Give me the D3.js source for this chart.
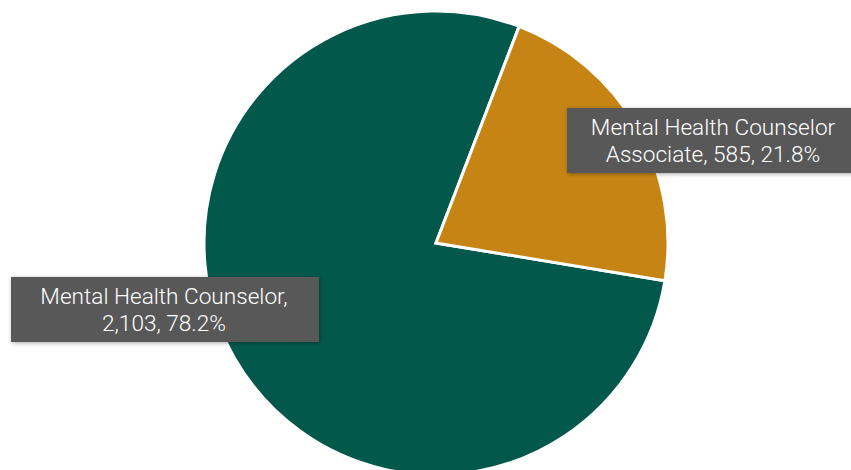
<!DOCTYPE html>
<html>
<head>
<meta charset="utf-8">
<script src="https://cdn.jsdelivr.net/npm/d3@7"></script>
<style>
  body { margin: 0; background: #fff; }
  svg { display: block; }
  .lbl text { font-family: Roboto, "Open Sans", sans-serif; font-size: 22.6px; font-weight: 300; fill: #fff; }
</style>
</head>
<body>
<svg id="chart" width="851" height="470"></svg>
<script>
"use strict";

var categories = ['Mental Health Counselor', 'Mental Health Counselor Associate'];
var counts = [2103, 585];
var labelLines = [
  ['Mental Health Counselor,', '2,103, 78.2%'],
  ['Mental Health Counselor', 'Associate, 585, 21.8%']
];
var colors = ['#02594b', '#c58413'];

var svg = d3.select('#chart');
var cx = 436, cy = 243, radius = 232;

var defs = svg.append('defs');
var f = defs.append('filter').attr('id', 'shadow')
  .attr('x', '-10%').attr('y', '-20%').attr('width', '130%').attr('height', '150%');
f.append('feDropShadow').attr('dx', 1).attr('dy', 1).attr('stdDeviation', 2)
  .attr('flood-color', '#000').attr('flood-opacity', 0.35);

// Associate slice starts at ~21deg clockwise from top, counselor fills the rest
var assocStart = 21 * Math.PI / 180;
var pie = d3.pie().sort(null).value(function(d) { return d; })
  .startAngle(assocStart + (counts[1] / d3.sum(counts)) * 2 * Math.PI)
  .endAngle(assocStart + (counts[1] / d3.sum(counts)) * 2 * Math.PI + 2 * Math.PI);
var arcs = pie(counts);
var arc = d3.arc().innerRadius(0).outerRadius(radius);

var g = svg.append('g').attr('transform', 'translate(' + cx + ',' + cy + ')');
g.selectAll('path').data(arcs).enter()
  .append('path')
  .attr('d', arc)
  .attr('fill', function(d, i) { return colors[i]; })
  .attr('stroke', '#fff')
  .attr('stroke-width', 3)
  .attr('stroke-linejoin', 'miter');

// label boxes
var boxes = [
  { x: 11, y: 277, w: 308, h: 65, mid: 164 },
  { x: 567, y: 108, w: 290, h: 65, mid: 713 }
];
var lg = svg.selectAll('g.lbl').data(boxes).enter()
  .append('g').attr('class', 'lbl');
lg.append('rect')
  .attr('x', function(d) { return d.x; })
  .attr('y', function(d) { return d.y; })
  .attr('width', function(d) { return d.w; })
  .attr('height', function(d) { return d.h; })
  .attr('fill', '#595959')
  .attr('filter', 'url(#shadow)');
lg.each(function(d, i) {
  var t = d3.select(this).append('text')
    .attr('text-anchor', 'middle');
  labelLines[i].forEach(function(line, j) {
    t.append('tspan').attr('x', d.mid).attr('y', d.y + 27 + j * 27).text(line);
  });
});
</script>
</body>
</html>
